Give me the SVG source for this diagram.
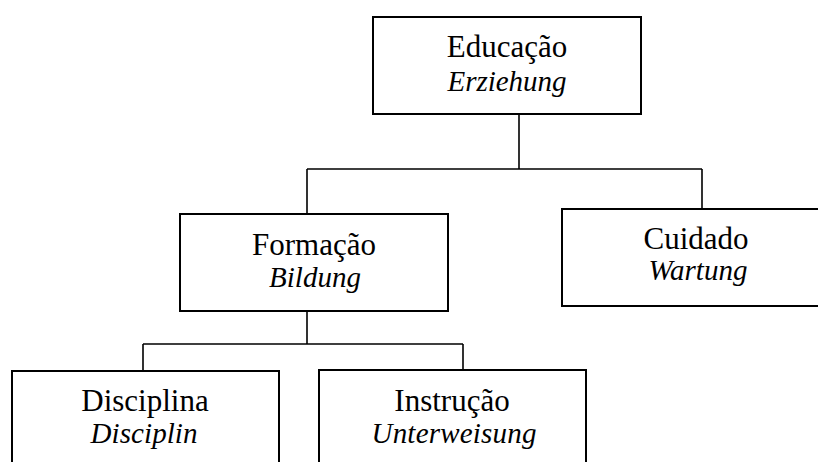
<svg xmlns="http://www.w3.org/2000/svg" width="818" height="462" viewBox="0 0 818 462">
  <style>
    .box { fill: #ffffff; stroke: #000000; stroke-width: 2; }
    .conn { fill: none; stroke: #000000; stroke-width: 1.6; }
    .t { font-family: "Liberation Serif", "Times New Roman", serif; font-size: 31px; fill: #000000; text-anchor: middle; }
    .it { font-family: "Liberation Serif", "Times New Roman", serif; font-size: 29px; font-style: italic; fill: #000000; text-anchor: middle; }
  </style>
  <rect x="0" y="0" width="818" height="462" fill="#ffffff"/>
  <g id="connectors">
    <path class="conn" d="M519,114 V169 M307,169 H702 M307,169 V214 M702,169 V209"/>
    <path class="conn" d="M307,311 V344 M143,344 H463 M143,344 V371 M463,344 V370"/>
  </g>
  <g id="node-educacao">
    <rect class="box" x="373" y="17" width="268" height="97"/>
    <text class="t" x="507" y="57">Educação</text>
    <text class="it" x="507" y="91" textLength="119">Erziehung</text>
  </g>
  <g id="node-formacao">
    <rect class="box" x="180" y="214" width="268" height="97"/>
    <text class="t" x="314" y="255">Formação</text>
    <text class="it" x="315" y="287">Bildung</text>
  </g>
  <g id="node-cuidado">
    <rect class="box" x="562" y="209" width="268" height="97"/>
    <text class="t" x="696" y="249">Cuidado</text>
    <text class="it" x="698" y="280">Wartung</text>
  </g>
  <g id="node-disciplina">
    <rect class="box" x="12" y="371" width="267" height="100"/>
    <text class="t" x="145" y="411">Disciplina</text>
    <text class="it" x="144" y="443" textLength="107">Disciplin</text>
  </g>
  <g id="node-instrucao">
    <rect class="box" x="319" y="370" width="267" height="100"/>
    <text class="t" x="452" y="411">Instrução</text>
    <text class="it" x="454" y="443" textLength="165">Unterweisung</text>
  </g>
</svg>
